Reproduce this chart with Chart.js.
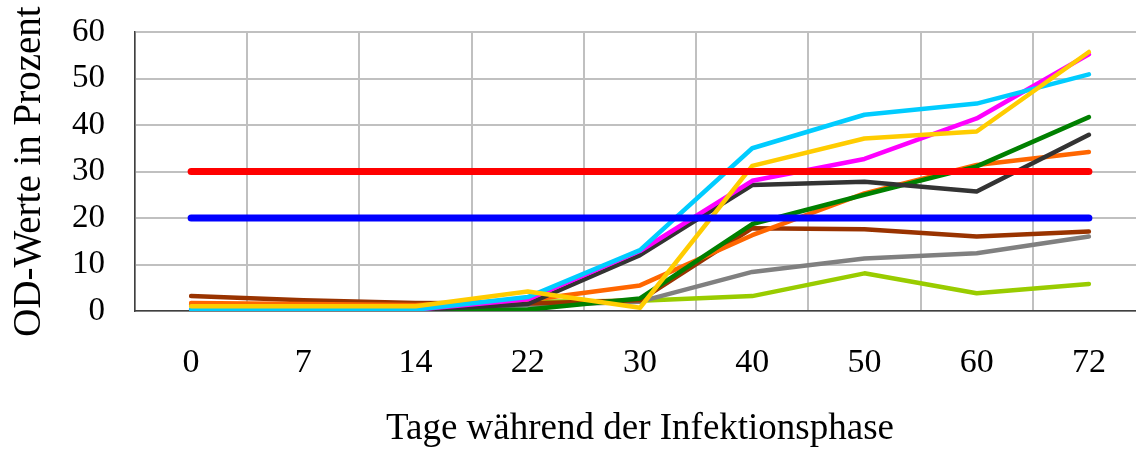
<!DOCTYPE html>
<html lang="de">
<head>
<meta charset="utf-8">
<title>OD-Werte</title>
<script src="https://cdn.jsdelivr.net/npm/chart.js@4.4.1/dist/chart.umd.min.js"></script>
<style>
    html, body { margin: 0; padding: 0; background: #fff; overflow: hidden; }
    #wrap { width: 1145px; height: 451px; }
</style>
</head>
<body>
<div id="wrap"><canvas id="chart" width="1145" height="451"></canvas></div>
<script>
/* ---- Data ---- */
const days = ['0', '7', '14', '22', '30', '40', '50', '60', '72'];
const yTicks = [0, 10, 20, 30, 40, 50, 60];

const grenzeHoch   = [30, 30, 30, 30, 30, 30, 30, 30, 30];
const grenzeNiedrig = [20, 20, 20, 20, 20, 20, 20, 20, 20];

const serieGelb    = [1.0, 1.0, 1.0, 4.2, 0.7, 31.2, 37.1, 38.6, 55.7];
const serieCyan    = [0.3, 0.3, 0.3, 3.0, 13.1, 35.0, 42.2, 44.6, 50.9];
const serieMagenta = [0.3, 0.3, 0.3, 2.5, 12.9, 28.0, 32.7, 41.4, 55.2];
const serieDunkel  = [0.2, 0.2, 0.2, 1.5, 12.0, 27.1, 27.8, 25.7, 37.9];
const serieGruen   = [0, 0, 0, 0.3, 2.7, 18.7, 25.0, 31.1, 41.7];
const serieOrange  = [1.7, 1.5, 1.3, 2.3, 5.5, 16.3, 25.3, 31.4, 34.2];
const serieBraun   = [3.2, 2.3, 1.7, 1.6, 2.3, 17.8, 17.6, 16.0, 17.1];
const serieGrau    = [1.4, 1.1, 0.9, 1.2, 2.0, 8.4, 11.3, 12.4, 16.0];
const serieHellgruen = [1.3, 1.3, 1.2, 2.0, 2.2, 3.2, 8.1, 3.8, 5.8];

const FONT = "'Liberation Serif', 'Times New Roman', serif";

function line(data, color, width) {
    return {
        data,
        borderColor: color,
        backgroundColor: color,
        borderWidth: width,
        borderCapStyle: 'round',
        borderJoinStyle: 'round',
        pointRadius: 0,
        pointHoverRadius: 0,
        tension: 0,
        fill: false
    };
}

// first dataset ends up on top
const datasets = [
    line(grenzeHoch, '#FF0000', 7),
    line(grenzeNiedrig, '#0000FF', 7),
    line(serieGelb, '#FFCC00', 4.5),
    line(serieCyan, '#00CCFF', 4.5),
    line(serieMagenta, '#FF00FF', 4.5),
    line(serieDunkel, '#333333', 4.5),
    line(serieGruen, '#008000', 4.5),
    line(serieOrange, '#FF6600', 4.5),
    line(serieBraun, '#993300', 4.5),
    line(serieGrau, '#808080', 4.5),
    line(serieHellgruen, '#99CC00', 4.5)
];

new Chart(document.getElementById('chart').getContext('2d'), {
    type: 'line',
    data: { labels: days, datasets },
    options: {
        responsive: false,
        animation: false,
        layout: { padding: { top: 32, left: 0, right: 0, bottom: 0 } },
        plugins: {
            legend: { display: false },
            tooltip: { enabled: false }
        },
        scales: {
            x: {
                offset: true,
                grid: { offset: true, color: '#C0C0C0', lineWidth: 2, drawTicks: false },
                border: { color: '#404040', width: 1.5 },
                ticks: { color: '#000', padding: 32, font: { family: FONT, size: 34 } },
                title: {
                    display: true,
                    text: 'Tage während der Infektionsphase',
                    color: '#000',
                    font: { family: FONT, size: 37 },
                    padding: { top: 0, bottom: 0 }
                },
                afterFit: s => { s.height = 140; }
            },
            y: {
                min: 0,
                max: 60,
                afterBuildTicks: s => { s.ticks = yTicks.map(v => ({ value: v })); },
                grid: { color: '#C0C0C0', lineWidth: 2, drawTicks: false },
                border: { color: '#404040', width: 1.5 },
                ticks: { color: '#000', padding: 30, font: { family: FONT, size: 33 } },
                title: {
                    display: true,
                    text: 'OD-Werte in Prozent',
                    color: '#000',
                    font: { family: FONT, size: 39 },
                    padding: { top: 6, bottom: 0 }
                },
                afterFit: s => {
                    s.width = 135;
                    s.paddingTop = 0;
                    s.paddingBottom = 0;
                }
            }
        }
    }
});
</script>
</body>
</html>
